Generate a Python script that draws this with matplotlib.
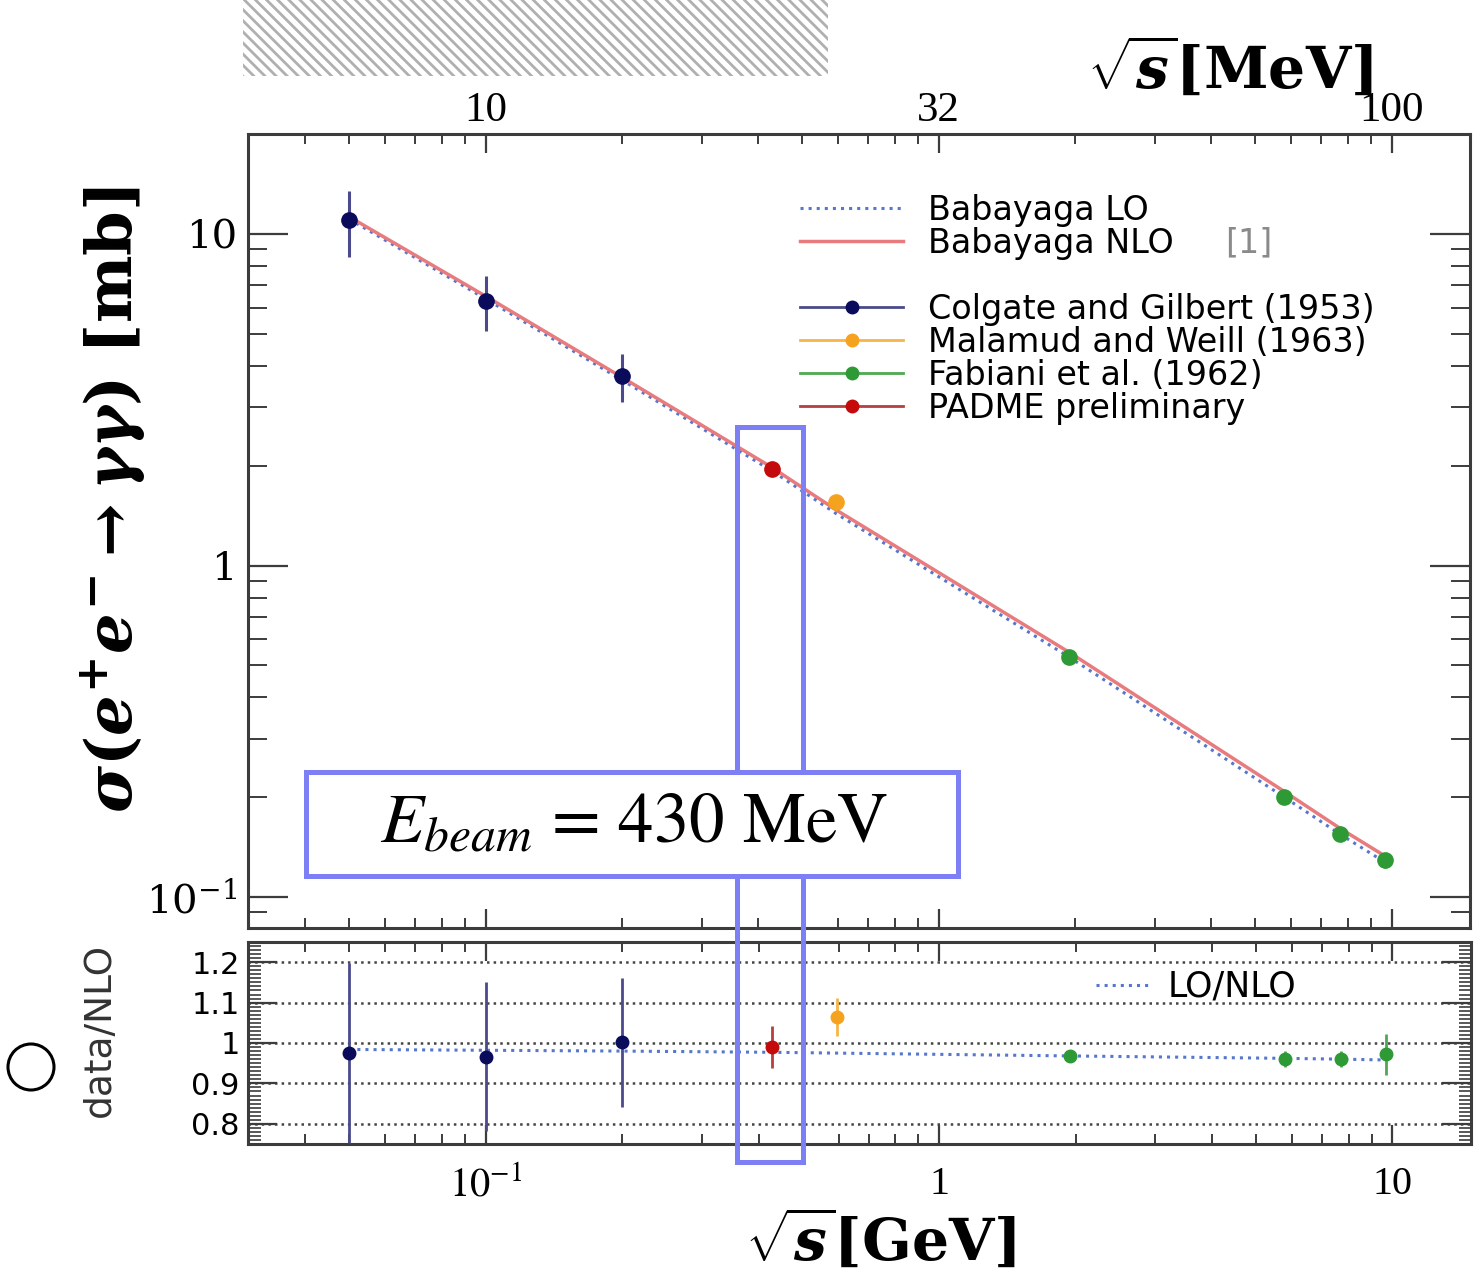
"""Pair annihilation cross section vs sqrt(s) with a data/NLO ratio panel.

Main panel: sigma(e+e- -> gamma gamma) on log-log axes, Babayaga LO/NLO curves
and the four measurement sets; lower panel: data/NLO with the LO/NLO curve.
Writes out.png (1474 x 1286 px).
"""
import matplotlib

matplotlib.use("Agg")
import matplotlib.pyplot as plt  # noqa: E402
import numpy as np  # noqa: E402
from matplotlib.lines import Line2D  # noqa: E402
from matplotlib.patches import Ellipse, Rectangle  # noqa: E402
from matplotlib.ticker import LogLocator, MultipleLocator, NullFormatter  # noqa: E402

# --- data -----------------------------------------------------------------
# sqrt(s) [GeV], sigma [mb], sigma error, data/NLO, data/NLO error
COLGATE_X = [0.05, 0.1, 0.2]
COLGATE_Y = [11.0, 6.28, 3.73]
COLGATE_ERR = [2.45, 1.18, 0.62]
COLGATE_R = [0.975, 0.966, 1.002]
COLGATE_RERR = [0.223, 0.184, 0.16]

MALAMUD_X = [0.595]
MALAMUD_Y = [1.56]
MALAMUD_ERR = [0.07]
MALAMUD_R = [1.064]
MALAMUD_RERR = [0.047]

FABIANI_X = [1.94, 5.8, 7.7, 9.66]
FABIANI_Y = [0.53, 0.20, 0.155, 0.129]
FABIANI_ERR = [0.008, 0.004, 0.003, 0.0065]
FABIANI_R = [0.968, 0.96, 0.96, 0.972]
FABIANI_RERR = [0.015, 0.02, 0.02, 0.05]

PADME_X = [0.428]
PADME_Y = [1.96]
PADME_ERR = [0.1]
PADME_R = [0.99]
PADME_RERR = [0.053]

THEORY_X = [0.05, 0.1, 0.2, 0.428, 0.595, 1.94, 5.8, 7.7, 9.66]
NLO_Y = [11.28, 6.50, 3.70, 1.98, 1.47, 0.548, 0.208, 0.161, 0.133]
LO_Y = [11.10, 6.38, 3.63, 1.934, 1.433, 0.530, 0.200, 0.1546, 0.1274]
LO_OVER_NLO = [0.984, 0.982, 0.980, 0.977, 0.975, 0.968, 0.962, 0.960, 0.958]

TOP_TICKS = [0.1, 1, 10]
TOP_LABELS = ["10", "32", "100"]
BOTTOM_LABELS = ["$10^{-1}$", "1", "10"]
MAIN_YTICKS = [0.1, 1, 10]
MAIN_YLABELS = ["$10^{-1}$", "1", "10"]
RATIO_YTICKS = [0.8, 0.9, 1.0, 1.1, 1.2]
RATIO_YLABELS = ["0.8", "0.9", "1", "1.1", "1.2"]

# --- styling ---------------------------------------------------------------
W, H = 1474, 1286
FRAME = "#3c3c3c"
BLUE_BOX = "#7d80f5"
LO_COL = "#5577cc"
NLO_COL = "#e87b7e"
SANS = "DejaVu Sans"

SERIES = [
    # label, x, y, err, ratio, ratio err, marker colour, bar colour
    ("Colgate and Gilbert (1953)", COLGATE_X, COLGATE_Y, COLGATE_ERR,
     COLGATE_R, COLGATE_RERR, "#0b0b5c", "#4a4a8c"),
    ("Malamud and Weill (1963)", MALAMUD_X, MALAMUD_Y, MALAMUD_ERR,
     MALAMUD_R, MALAMUD_RERR, "#f5a31f", "#f5b549"),
    ("Fabiani et al. (1962)", FABIANI_X, FABIANI_Y, FABIANI_ERR,
     FABIANI_R, FABIANI_RERR, "#2e9a35", "#4fa954"),
    ("PADME preliminary", PADME_X, PADME_Y, PADME_ERR,
     PADME_R, PADME_RERR, "#c40a0a", "#b5403f"),
]

plt.rcParams["mathtext.fontset"] = "custom"
plt.rcParams["mathtext.rm"] = "DejaVu Serif:bold"
plt.rcParams["mathtext.it"] = "DejaVu Serif:italic:bold"
plt.rcParams["mathtext.bf"] = "DejaVu Serif:bold"
plt.rcParams["hatch.linewidth"] = 2.0


def _fx(px):
    return px / W


def _fy(py):
    return 1 - py / H


def _frame(ax):
    for s in ax.spines.values():
        s.set_linewidth(2.2)
        s.set_color(FRAME)


def main() -> None:
    fig = plt.figure(figsize=(W / 100, H / 100), dpi=100)
    ax = fig.add_axes([_fx(248), _fy(928), (1470 - 248) / W, (928 - 134) / H])
    rx = fig.add_axes([_fx(248), _fy(1144), (1471 - 248) / W, (1144 - 942) / H])

    # ---- main panel
    ax.set_xscale("log"); ax.set_yscale("log")
    ax.set_xlim(0.0299, 14.9); ax.set_ylim(0.0806, 20.05)
    ax.plot(THEORY_X, LO_Y, ls=":", color=LO_COL, lw=2.2)
    ax.plot(THEORY_X, NLO_Y, color=NLO_COL, lw=2.5)
    for _, x, y, e, _, _, mc, ec in SERIES:
        ax.errorbar(x, y, yerr=e, fmt="o", ms=11, color=mc, ecolor=ec,
                    elinewidth=2.2, capsize=0, zorder=4)

    ax.set_xticks(TOP_TICKS, labels=TOP_LABELS, fontsize=31, fontfamily="Liberation Serif")
    ax.xaxis.set_minor_locator(LogLocator(base=10, subs=np.arange(2, 10)))
    ax.xaxis.set_minor_formatter(NullFormatter())
    ax.tick_params(axis="x", which="both", direction="in", top=True, bottom=True,
                   labeltop=True, labelbottom=False, color=FRAME, pad=3)
    ax.tick_params(axis="x", which="major", length=14, width=1.6)
    ax.tick_params(axis="x", which="minor", length=7, width=1.4)

    ax.set_yticks(MAIN_YTICKS, labels=MAIN_YLABELS, fontsize=29,
                  fontfamily="DejaVu Serif", math_fontfamily="dejavuserif")
    ax.yaxis.set_minor_locator(LogLocator(base=10, subs=np.arange(2, 10)))
    ax.yaxis.set_minor_formatter(NullFormatter())
    ax.tick_params(axis="y", which="both", direction="in", left=True, right=True,
                   color=FRAME, pad=8)
    ax.tick_params(axis="y", which="major", length=29, width=1.6)
    ax.tick_params(axis="y", which="minor", length=14, width=1.4)
    _frame(ax)

    handles = [Line2D([], [], ls=":", color=LO_COL, lw=2.2),
               Line2D([], [], color=NLO_COL, lw=2.5),
               Line2D([], [], alpha=0)]
    labels = ["Babayaga LO", "Babayaga NLO", " "]
    for lab, *_, mc, ec in SERIES:
        handles.append(Line2D([], [], color=ec, lw=2, marker="o", ms=9, mfc=mc, mec=mc))
        labels.append(lab)
    ax.legend(handles, labels, loc="upper left", bbox_to_anchor=(_fx(800), _fy(194)),
              bbox_transform=fig.transFigure, frameon=False, borderpad=0,
              borderaxespad=0, handlelength=3.1, handletextpad=0.75, labelspacing=0.0,
              prop={"family": SANS, "size": 24})
    fig.text(_fx(1225), _fy(243), "[1]", fontsize=24, family=SANS, color="#8a8a8a",
             va="center")

    # ---- ratio panel
    rx.set_xscale("log")
    rx.set_xlim(0.0299, 14.9); rx.set_ylim(0.75, 1.25)
    rx.grid(axis="y", which="major", ls=":", color="#444444", lw=1.8)
    rx.plot(THEORY_X, LO_OVER_NLO, ls=":", color=LO_COL, lw=2.2)
    for _, x, _, _, r, re, mc, ec in SERIES:
        rx.errorbar(x, r, yerr=re, fmt="o", ms=9, color=mc, ecolor=ec,
                    elinewidth=2, capsize=0, zorder=4)

    rx.set_xticks(TOP_TICKS, labels=BOTTOM_LABELS, fontsize=29,
                  fontfamily="Liberation Serif", math_fontfamily="stix")
    rx.xaxis.set_minor_locator(LogLocator(base=10, subs=np.arange(2, 10)))
    rx.xaxis.set_minor_formatter(NullFormatter())
    rx.tick_params(axis="x", which="both", direction="in", top=True, bottom=True,
                   color=FRAME, pad=16)
    rx.tick_params(axis="x", which="major", length=14, width=1.6)
    rx.tick_params(axis="x", which="minor", length=7, width=1.4)

    rx.set_yticks(RATIO_YTICKS, labels=RATIO_YLABELS, fontsize=22, fontfamily=SANS)
    rx.yaxis.set_minor_locator(MultipleLocator(0.01))
    rx.tick_params(axis="y", which="both", direction="in", left=True, right=True,
                   color=FRAME, pad=6)
    rx.tick_params(axis="y", which="major", length=21, width=1.6)
    rx.tick_params(axis="y", which="minor", length=9, width=1.2)
    _frame(rx)

    rx.legend([Line2D([], [], ls=":", color=LO_COL, lw=2.2)], ["LO/NLO"],
              loc="upper left", bbox_to_anchor=(_fx(1096), _fy(970)),
              bbox_transform=fig.transFigure, frameon=False, borderpad=0,
              borderaxespad=0, handlelength=1.6, handletextpad=0.45,
              prop={"family": SANS, "size": 25})

    # ---- axis titles
    fig.text(_fx(114), _fy(500), r"$\sigma(e^{+}e^{-}\rightarrow\gamma\gamma)$ [mb]",
             rotation=90, ha="center", va="center", fontsize=46, fontweight="bold",
             family="DejaVu Serif", math_fontfamily="custom")
    fig.text(_fx(100), _fy(1030), "data/NLO", rotation=90, ha="center", va="center",
             fontsize=27, family=SANS, color="#333333")
    fig.text(_fx(880), _fy(1240), r"$\sqrt{s}$[GeV]", ha="center", va="center",
             fontsize=42, fontweight="bold", family="DejaVu Serif",
             math_fontfamily="custom")
    fig.text(_fx(1230), _fy(68), r"$\sqrt{s}$[MeV]", ha="center", va="center",
             fontsize=42, fontweight="bold", family="DejaVu Serif",
             math_fontfamily="custom")

    # ---- overlays
    fig.add_artist(Rectangle((_fx(243), _fy(76)), 585 / W, 76 / H,
                             transform=fig.transFigure, fill=False, hatch="\\\\\\",
                             edgecolor="#b0b0b0", lw=0))
    fig.add_artist(Ellipse((_fx(31), _fy(1067)), 46 / W, 46 / H,
                           transform=fig.transFigure, fill=False, ec="black", lw=2.2))
    fig.add_artist(Rectangle((_fx(737), _fy(1162)), 66 / W, 735 / H,
                             transform=fig.transFigure, fill=False, ec=BLUE_BOX,
                             lw=3.6, zorder=5))
    fig.add_artist(Rectangle((_fx(306), _fy(876)), 652 / W, 104 / H,
                             transform=fig.transFigure, fc="white", ec=BLUE_BOX,
                             lw=3.6, zorder=6))
    fig.text(_fx(634), _fy(826), r"$E_{beam}$ = 430 MeV", ha="center", va="center",
             fontsize=51, family="STIXGeneral", math_fontfamily="stix", zorder=7)

    fig.savefig("out.png", dpi=100)
    plt.close(fig)


if __name__ == "__main__":
    main()
